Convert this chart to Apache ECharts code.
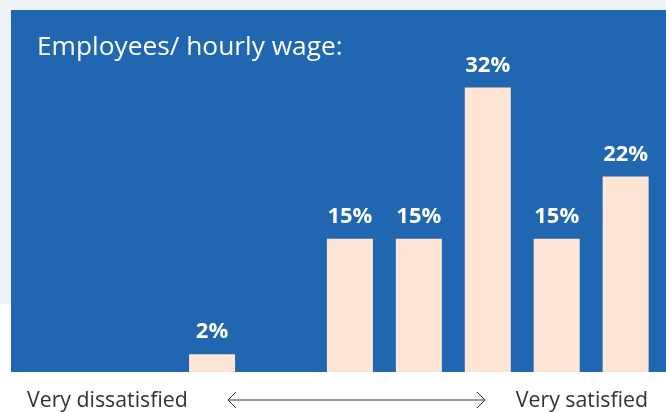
<!DOCTYPE html>
<html>
<head>
<meta charset="utf-8">
<script src="https://cdn.jsdelivr.net/npm/echarts@6/dist/echarts.min.js"></script>
<style>
  html, body { margin: 0; padding: 0; background: #fff; }
  #chart { width: 666px; height: 412px; }
</style>
</head>
<body>
<div id="chart"></div>
<script>
// satisfaction scale, left = very dissatisfied, right = very satisfied
var categories = ['1', '2', '3', '4', '5', '6', '7'];
var shares = [2, null, 15, 15, 32, 15, 22];

var titleText = 'Employees/ hourly wage:';
var leftEndText = 'Very dissatisfied';
var rightEndText = 'Very satisfied';

var dom = document.getElementById('chart');
var myChart = echarts.init(dom);

var option = {
  backgroundColor: '#ffffff',
  animation: false,
  graphic: [
    // page panel + blue card
    { type: 'rect', z: -20, shape: { x: 0, y: 0, width: 666, height: 304 }, style: { fill: '#eef3f7' } },
    { type: 'rect', z: -10, shape: { x: 11, y: 10, width: 655, height: 362 }, style: { fill: '#2066b0' } },
    {
      type: 'text', left: 37, top: 35,
      style: { text: titleText, fill: '#ffffff', font: 'normal 26.3px "Open Sans"' }
    },
    {
      type: 'text', left: 27, top: 390,
      style: { text: leftEndText, fill: '#333333', font: 'normal 21.3px "Open Sans"' }
    },
    {
      type: 'text', right: 18, top: 390,
      style: { text: rightEndText, fill: '#333333', font: 'normal 21.3px "Open Sans"' }
    },
    // double-headed arrow between the two ends
    { type: 'line', shape: { x1: 228, y1: 400, x2: 485, y2: 400 }, style: { stroke: '#333', lineWidth: 1 } },
    { type: 'polyline', shape: { points: [[236, 392], [228, 400], [236, 408]] }, style: { stroke: '#333', lineWidth: 1, fill: null } },
    { type: 'polyline', shape: { points: [[477, 392], [485, 400], [477, 408]] }, style: { stroke: '#333', lineWidth: 1, fill: null } }
  ],
  grid: {
    left: 177.6,
    right: 5.9,
    top: 52,
    bottom: 40
  },
  xAxis: {
    type: 'category',
    data: categories,
    axisLine: { show: false },
    axisTick: { show: false },
    axisLabel: { show: false }
  },
  yAxis: {
    type: 'value',
    min: 0,
    max: 36,
    show: false,
    splitLine: { show: false }
  },
  series: [
    {
      type: 'bar',
      data: shares,
      barWidth: 46,
      itemStyle: { color: '#fde6d5' },
      label: {
        show: true,
        position: 'top',
        distance: 11,
        formatter: '{c}%',
        color: '#ffffff',
        fontFamily: 'Open Sans',
        fontWeight: 'bold',
        fontSize: 22
      }
    }
  ]
};

myChart.setOption(option);
</script>
</body>
</html>
